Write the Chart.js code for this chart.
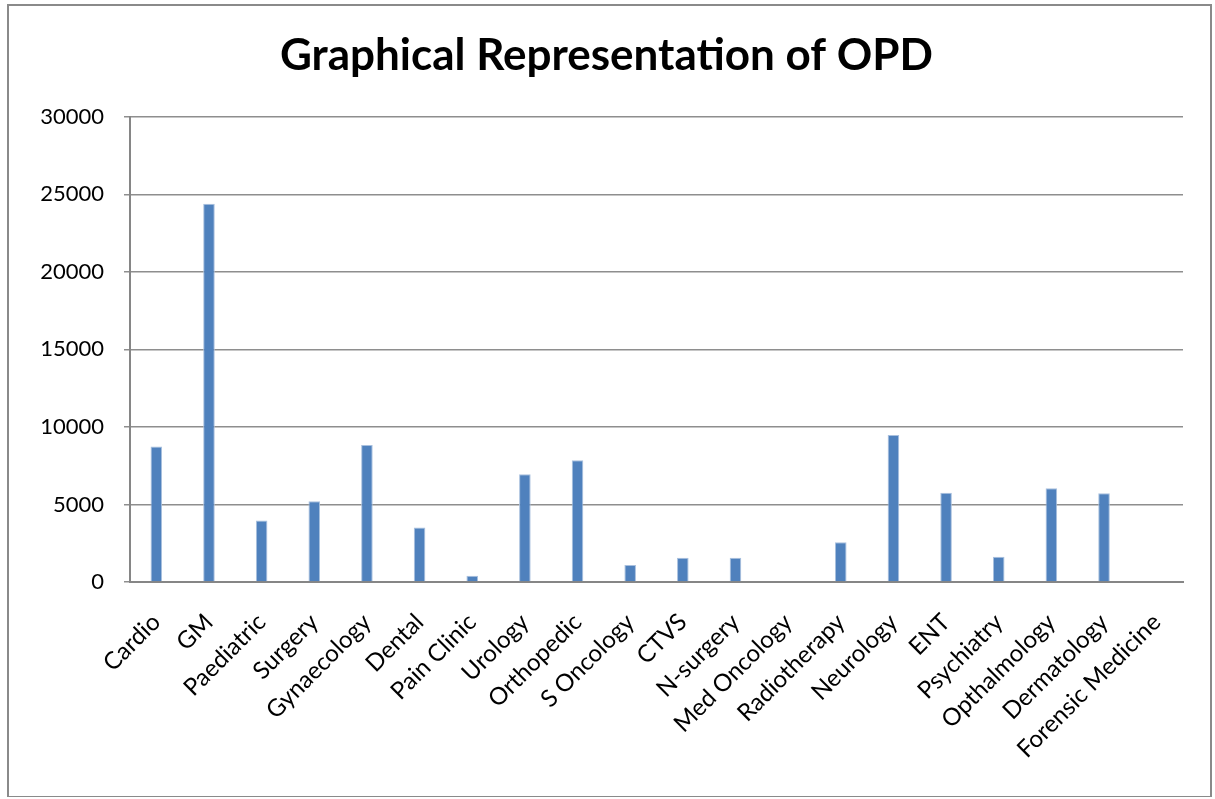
<!DOCTYPE html>
<html>
<head>
<meta charset="utf-8">
<script src="https://cdn.jsdelivr.net/npm/chart.js@4/dist/chart.umd.min.js"></script>
<style>
  html, body { margin: 0; padding: 0; background: #fff; }
  #frame {
    position: absolute; left: 7px; top: 4px; width: 1201px; height: 790px;
    border: 2px solid #8a8a8a; border-bottom-width: 1px;
  }
  #wrap { position: absolute; left: 0; top: 0; width: 1215px; height: 799px; }
</style>
</head>
<body>
<div id="frame"></div>
<div id="wrap"><canvas id="opdChart"></canvas></div>
<script>
// departments
var departments = ["Cardio", "GM", "Paediatric", "Surgery", "Gynaecology", "Dental",
    "Pain Clinic", "Urology", "Orthopedic", "S Oncology", "CTVS", "N-surgery",
    "Med Oncology", "Radiotherapy", "Neurology", "ENT", "Psychiatry",
    "Opthalmology", "Dermatology", "Forensic Medicine"];

// OPD patient counts
var opdCounts = [8740, 24400, 3960, 5200, 8830, 3510, 400, 6950, 7850, 1090,
    1560, 1560, 0, 2570, 9480, 5750, 1630, 6050, 5730, 0];

// y axis ticks
var yTicks = [0, 5000, 10000, 15000, 20000, 25000, 30000];

var ctx = document.getElementById("opdChart");

var chart = new Chart(ctx, {
    type: "bar",
    data: {
        labels: departments,
        datasets: [{
            label: "OPD",
            data: opdCounts,
            backgroundColor: "#4f81bd",
            borderColor: "#a9c0de",
            borderWidth: { top: 1, left: 1, right: 1, bottom: 0 },
            barPercentage: 0.22,
            categoryPercentage: 1
        }]
    },
    options: {
        responsive: true,
        maintainAspectRatio: false,
        animation: false,
        layout: {
            padding: { left: 30, right: 32, top: 0, bottom: 0 }
        },
        plugins: {
            legend: { display: false },
            tooltip: { enabled: false },
            title: {
                display: true,
                text: "Graphical Representation of OPD",
                color: "#000",
                font: { family: "Lato", size: 44, weight: "bold" },
                padding: { top: 29, bottom: 35 }
            }
        },
        scales: {
            x: {
                grid: { display: false, drawTicks: false },
                border: { color: "#868686", width: 2 },
                ticks: {
                    color: "#000",
                    font: { family: "Lato", size: 24 },
                    minRotation: 45,
                    maxRotation: 45,
                    autoSkip: false,
                    padding: 26
                },
                afterFit: function (scale) { scale.height = 217; }
            },
            y: {
                min: 0,
                max: 30000,
                afterBuildTicks: function (scale) {
                    scale.ticks = yTicks.map(function (v) { return { value: v }; });
                },
                grid: { color: "#8e8e8e", lineWidth: 1.5, tickLength: 6 },
                border: { color: "#868686", width: 2 },
                ticks: {
                    color: "#000",
                    font: { family: "Lato", size: 22 },
                    padding: 20,
                    callback: function (value) { return String(value); }
                },
                afterFit: function (scale) { scale.width = 100; }
            }
        }
    }
});
</script>
</body>
</html>
